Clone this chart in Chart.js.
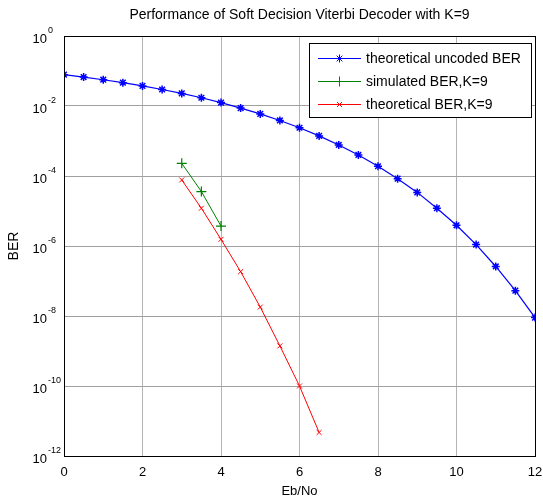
<!DOCTYPE html>
<html>
<head>
<meta charset="utf-8">
<script src="https://cdn.jsdelivr.net/npm/chart.js@4/dist/chart.umd.min.js"></script>
<style>
  html, body { margin: 0; padding: 0; background: #fff; }
  #wrap { width: 543px; height: 499px; }
</style>
</head>
<body>
<div id="wrap"><canvas id="berChart" width="543" height="499"></canvas></div>
<script>
// Eb/No points (dB)
const ebnoUncoded = [0, 0.5, 1, 1.5, 2, 2.5, 3, 3.5, 4, 4.5, 5, 5.5, 6, 6.5, 7, 7.5, 8, 8.5, 9, 9.5, 10, 10.5, 11, 11.5, 12];
const berUncoded = [7.86e-2, 6.71e-2, 5.63e-2, 4.64e-2, 3.75e-2, 2.96e-2, 2.29e-2, 1.72e-2, 1.25e-2, 8.7e-3, 5.95e-3, 3.86e-3, 2.39e-3, 1.4e-3, 7.7e-4, 4.0e-4, 1.9e-4, 8.4e-5, 3.4e-5, 1.2e-5, 3.9e-6, 1.1e-6, 2.6e-7, 5.3e-8, 9.0e-9];

const ebnoSim = [3, 3.5, 4];
const berSim = [2.3e-4, 3.6e-5, 3.7e-6];

const ebnoTheory = [3, 3.5, 4, 4.5, 5, 5.5, 6, 6.5];
const berTheory = [7.7e-5, 1.2e-5, 1.55e-6, 1.85e-7, 1.8e-8, 1.4e-9, 1.0e-10, 4.7e-12];

const xTicks = [0, 2, 4, 6, 8, 10, 12];
const yExponents = [0, -2, -4, -6, -8, -10, -12];

const seriesNames = ['theoretical uncoded BER', 'simulated BER,K=9', 'theoretical BER,K=9'];

const FONT = '"Liberation Sans", Arial, Helvetica, sans-serif';

function toPoints(xs, ys) {
    return xs.map((x, i) => ({ x: x, y: ys[i] }));
}

// titles, tick labels, axes box and legend drawn on top of the chart
const matlabDecor = {
    id: 'matlabDecor',
    afterDraw(chart) {
        const ctx = chart.ctx;
        const area = chart.chartArea;
        const xs = chart.scales.x;
        const ys = chart.scales.y;

        ctx.save();

        // axes box
        ctx.strokeStyle = '#000';
        ctx.lineWidth = 1;
        ctx.strokeRect(Math.round(area.left) + 0.5, Math.round(area.top) + 0.5,
            Math.round(area.right - area.left), Math.round(area.bottom - area.top));

        ctx.fillStyle = '#000';

        // x tick labels
        ctx.font = '13px ' + FONT;
        ctx.textAlign = 'center';
        ctx.textBaseline = 'middle';
        xTicks.forEach(v => {
            ctx.fillText(String(v), xs.getPixelForValue(v), area.bottom + 16);
        });

        // y tick labels: 10 with superscript exponent
        yExponents.forEach(e => {
            const py = ys.getPixelForValue(Math.pow(10, e));
            ctx.font = '13px ' + FONT;
            ctx.textAlign = 'right';
            ctx.textBaseline = 'middle';
            ctx.fillText('10', 47, py + 3);
            ctx.font = '9px ' + FONT;
            ctx.textAlign = 'left';
            ctx.fillText(String(e), 48, py - 5);
        });

        // title
        ctx.font = '14px ' + FONT;
        ctx.textAlign = 'center';
        ctx.fillText('Performance of Soft Decision Viterbi Decoder with K=9', (area.left + area.right) / 2, 15);

        // axis labels
        ctx.font = '13px ' + FONT;
        ctx.fillText('Eb/No', (area.left + area.right) / 2, 491);
        ctx.save();
        ctx.font = '14px ' + FONT;
        ctx.translate(14, (area.top + area.bottom) / 2);
        ctx.rotate(-Math.PI / 2);
        ctx.fillText('BER', 0, 0);
        ctx.restore();

        // legend box
        const lx = 309, ly = 43, lw = 222, lh = 74;
        ctx.fillStyle = '#fff';
        ctx.fillRect(lx, ly, lw, lh);
        ctx.strokeStyle = '#000';
        ctx.strokeRect(lx + 0.5, ly + 0.5, lw, lh);

        chart.data.datasets.forEach((ds, i) => {
            const rowY = 58 + i * 23;
            ctx.strokeStyle = ds.borderColor;
            ctx.fillStyle = ds.borderColor;
            ctx.lineWidth = 1;
            ctx.beginPath();
            ctx.moveTo(318, rowY + 0.5);
            ctx.lineTo(361, rowY + 0.5);
            ctx.stroke();
            Chart.helpers.drawPoint(ctx, {
                pointStyle: ds.pointStyle,
                radius: ds.pointRadius,
                borderWidth: 1
            }, 339.5, rowY + 0.5);
            ctx.fillStyle = '#000';
            ctx.font = '14px ' + FONT;
            ctx.textAlign = 'left';
            ctx.textBaseline = 'middle';
            ctx.fillText(ds.label, 366, rowY + 1);
        });

        ctx.restore();
    }
};

new Chart(document.getElementById('berChart'), {
    type: 'line',
    data: {
        datasets: [
            {
                label: seriesNames[0],
                data: toPoints(ebnoUncoded, berUncoded),
                borderColor: '#0000ff',
                backgroundColor: '#0000ff',
                pointBorderColor: '#0000ff',
                pointStyle: 'star',
                pointRadius: 4,
                pointBorderWidth: 1.5,
                borderWidth: 1.2,
                tension: 0
            },
            {
                label: seriesNames[1],
                data: toPoints(ebnoSim, berSim),
                borderColor: '#008000',
                backgroundColor: '#008000',
                pointBorderColor: '#008000',
                pointStyle: 'cross',
                pointRadius: 5,
                pointBorderWidth: 1.2,
                borderWidth: 1,
                tension: 0
            },
            {
                label: seriesNames[2],
                data: toPoints(ebnoTheory, berTheory),
                borderColor: '#ff0000',
                backgroundColor: '#ff0000',
                pointBorderColor: '#ff0000',
                pointStyle: 'crossRot',
                pointRadius: 3.5,
                pointBorderWidth: 1,
                borderWidth: 1,
                tension: 0
            }
        ]
    },
    options: {
        responsive: false,
        animation: false,
        events: [],
        layout: { padding: { left: 64, right: 8, top: 36, bottom: 43 } },
        plugins: {
            legend: { display: false },
            title: { display: false },
            tooltip: { enabled: false }
        },
        scales: {
            x: {
                type: 'linear',
                min: 0,
                max: 12,
                afterBuildTicks: s => { s.ticks = xTicks.map(v => ({ value: v })); },
                afterFit: s => { s.height = 0; },
                ticks: { display: false },
                grid: { color: '#b4b4b4', drawTicks: false, lineWidth: 1 },
                border: { display: false }
            },
            y: {
                type: 'logarithmic',
                min: 1e-12,
                max: 1,
                afterBuildTicks: s => { s.ticks = yExponents.map(e => ({ value: Math.pow(10, e) })); },
                afterFit: s => { s.width = 0; },
                ticks: { display: false },
                grid: { color: '#a0a0a0', drawTicks: false, lineWidth: 1 },
                border: { display: false }
            }
        }
    },
    plugins: [matlabDecor]
});
</script>
</body>
</html>
